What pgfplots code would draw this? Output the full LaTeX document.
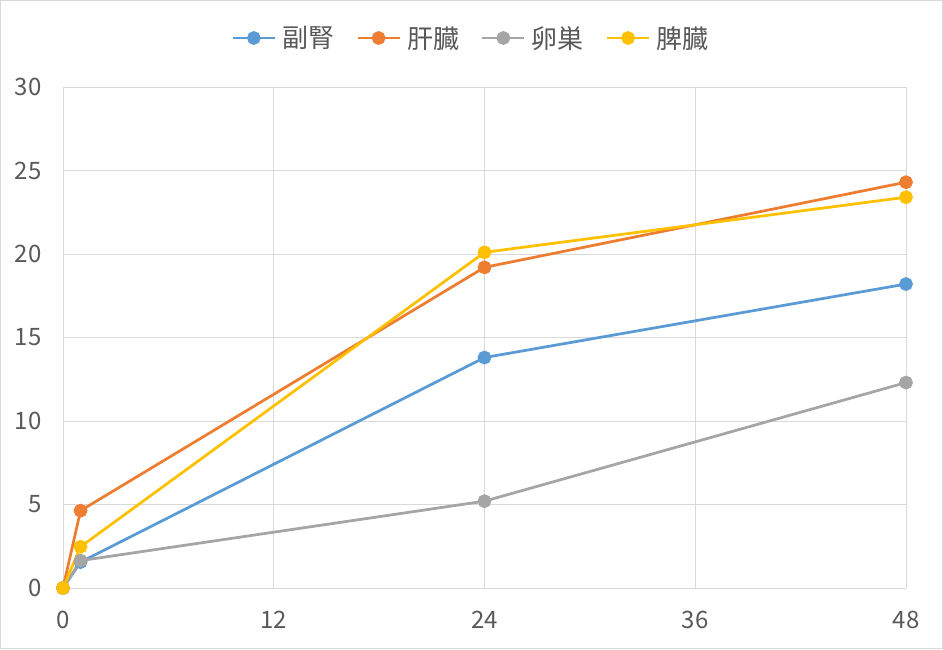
\documentclass[border=0pt]{standalone}
\usepackage{pgfplots}
\pgfplotsset{compat=1.18}
\usepackage{fontspec}
\setmainfont{Noto Sans CJK JP}
\definecolor{cblue}{HTML}{5B9BD5}
\definecolor{corange}{HTML}{ED7D31}
\definecolor{cgray}{HTML}{A5A5A5}
\definecolor{cyellow}{HTML}{FFC000}
\definecolor{ctext}{HTML}{595959}
\definecolor{cgrid}{HTML}{D9D9D9}
\begin{document}
\begin{tikzpicture}
\draw[cgrid, line width=1pt] (0.5pt,0.5pt) rectangle (942.5pt,648.5pt);
\begin{axis}[
  at={(63pt,61pt)}, anchor=south west,
  scale only axis, width=843pt, height=501pt,
  xmin=0, xmax=48, ymin=0, ymax=30,
  xtick={0,12,24,36,48}, ytick={0,5,10,15,20,25,30},
  grid=major, grid style={cgrid, line width=0.8pt},
  axis line style={draw=none},
  major tick length=0pt,
  tick label style={font=\fontsize{24}{26}\selectfont, text=ctext},
  /pgf/number format/assume math mode=true,
  xticklabel style={yshift=-20pt},
  yticklabel style={xshift=-18pt},
  legend columns=4,
  legend style={at={(0.484,1.0)}, anchor=center, yshift=49pt, draw=none, fill=none,
    font=\fontsize{26}{28}\selectfont, text=ctext,
    /tikz/every even column/.append style={column sep=20pt},
    /tikz/every odd column/.append style={column sep=4pt}},
  legend image code/.code={\draw[#1, mark=none, line width=2.75pt] (0pt,0pt) -- (42pt,0pt); \fill[#1] (21pt,0pt) circle (5.5pt);},
  every axis plot/.append style={line width=2.75pt, mark=*, mark size=5.5pt},
]
\draw[cgrid, line width=1pt] (axis cs:0,0) -- (axis cs:48,0);
\addplot[cblue, mark options={fill=cblue, draw=cblue}] coordinates {(0,0) (1,1.55) (24,13.8) (48,18.2)};
\addlegendentry{副腎}
\addplot[corange, mark options={fill=corange, draw=corange}] coordinates {(0,0) (1,4.63) (24,19.2) (48,24.3)};
\addlegendentry{肝臓}
\addplot[cgray, mark options={fill=cgray, draw=cgray}] coordinates {(0,0) (1,1.64) (24,5.2) (48,12.3)};
\addlegendentry{卵巣}
\addplot[cyellow, mark options={fill=cyellow, draw=cyellow}] coordinates {(0,0) (1,2.47) (24,20.1) (48,23.4)};
\addlegendentry{脾臓}
\end{axis}
\end{tikzpicture}
\end{document}
